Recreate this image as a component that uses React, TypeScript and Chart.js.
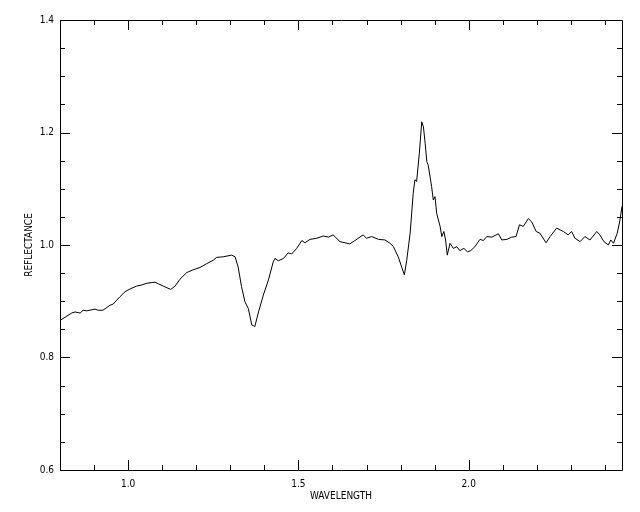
import React, { useEffect, useRef } from "react";
import { Chart, registerables } from "chart.js";

Chart.register(...registerables);

const WAVELENGTH = [
  0.803, 0.834, 0.844, 0.859, 0.868, 0.878, 0.903, 0.912, 0.926, 0.947,
  0.956, 0.976, 0.991, 1.006, 1.025, 1.040, 1.055, 1.079, 1.089, 1.103,
  1.125, 1.138, 1.152, 1.172, 1.191, 1.211, 1.231, 1.250, 1.260, 1.279,
  1.304, 1.314, 1.323, 1.333, 1.343, 1.353, 1.363, 1.372, 1.382, 1.397,
  1.412, 1.426, 1.431, 1.441, 1.456, 1.470, 1.480, 1.495, 1.510, 1.519,
  1.534, 1.554, 1.573, 1.588, 1.602, 1.622, 1.651, 1.666, 1.690, 1.700,
  1.715, 1.735, 1.754, 1.769, 1.779, 1.793, 1.803, 1.811, 1.818, 1.828,
  1.837, 1.842, 1.847, 1.855, 1.862, 1.867, 1.872, 1.877, 1.881, 1.891,
  1.896, 1.901, 1.906, 1.916, 1.921, 1.927, 1.932, 1.937, 1.945, 1.955,
  1.965, 1.974, 1.986, 1.996, 2.006, 2.018, 2.033, 2.043, 2.053, 2.068,
  2.087, 2.097, 2.112, 2.126, 2.139, 2.149, 2.160, 2.175, 2.185, 2.198,
  2.209, 2.227, 2.239, 2.258, 2.278, 2.292, 2.302, 2.312, 2.327, 2.341,
  2.356, 2.376, 2.385, 2.397, 2.410, 2.417, 2.425, 2.436, 2.444, 2.450,
];

const REFLECTANCE = [
  0.867, 0.879, 0.881, 0.879, 0.884, 0.883, 0.886, 0.884, 0.884, 0.893,
  0.895, 0.908, 0.917, 0.922, 0.927, 0.929, 0.932, 0.934, 0.931, 0.927,
  0.921, 0.927, 0.939, 0.951, 0.956, 0.960, 0.967, 0.973, 0.978, 0.979,
  0.982, 0.979, 0.961, 0.926, 0.899, 0.887, 0.858, 0.855, 0.879, 0.911,
  0.938, 0.970, 0.976, 0.972, 0.976, 0.986, 0.984, 0.994, 1.008, 1.004,
  1.010, 1.012, 1.016, 1.014, 1.018, 1.006, 1.002, 1.008, 1.018, 1.012,
  1.015, 1.010, 1.009, 1.003, 0.997, 0.979, 0.961, 0.947, 0.973, 1.021,
  1.092, 1.116, 1.113, 1.163, 1.219, 1.210, 1.181, 1.148, 1.142, 1.104,
  1.080, 1.086, 1.056, 1.033, 1.015, 1.024, 1.009, 0.982, 1.003, 0.994,
  0.997, 0.990, 0.994, 0.988, 0.990, 0.997, 1.010, 1.008, 1.015, 1.014,
  1.020, 1.009, 1.010, 1.014, 1.015, 1.036, 1.033, 1.047, 1.041, 1.024,
  1.021, 1.004, 1.015, 1.030, 1.024, 1.018, 1.024, 1.012, 1.006, 1.015,
  1.009, 1.024, 1.018, 1.006, 1.000, 1.009, 1.003, 1.021, 1.044, 1.069,
];

const X_MIN = 0.8;
const X_MAX = 2.45;
const Y_MIN = 0.6;
const Y_MAX = 1.4;

const X_MAJOR_TICKS = [1.0, 1.5, 2.0];
const X_MINOR_TICKS = [0.9, 1.1, 1.2, 1.3, 1.4, 1.6, 1.7, 1.8, 1.9, 2.1, 2.2, 2.3, 2.4];
const Y_MAJOR_TICKS = [0.6, 0.8, 1.0, 1.2, 1.4];
const Y_MINOR_TICKS = [0.65, 0.7, 0.75, 0.85, 0.9, 0.95, 1.05, 1.1, 1.15, 1.25, 1.3, 1.35];

const FONT_FAMILY = "'Liberation Sans Narrow', 'DejaVu Sans Condensed', 'Liberation Sans', Arial, sans-serif";

const frameTicksPlugin = {
  id: "frameTicks",
  afterDraw(chart: any) {
    const { ctx, chartArea } = chart;
    const { left, right, top, bottom } = chartArea;
    const xs = chart.scales.x;
    const ys = chart.scales.y;
    ctx.save();
    ctx.strokeStyle = "#000";
    ctx.lineWidth = 1;
    ctx.beginPath();
    ctx.rect(Math.round(left) + 0.5, Math.round(top) + 0.5, Math.round(right - left), Math.round(bottom - top));
    ctx.stroke();
    const drawX = (v: number, len: number) => {
      const p = Math.round(xs.getPixelForValue(v)) + 0.5;
      ctx.beginPath();
      ctx.moveTo(p, bottom);
      ctx.lineTo(p, bottom - len);
      ctx.moveTo(p, top);
      ctx.lineTo(p, top + len);
      ctx.stroke();
    };
    const drawY = (v: number, len: number) => {
      const p = Math.round(ys.getPixelForValue(v)) + 0.5;
      ctx.beginPath();
      ctx.moveTo(left, p);
      ctx.lineTo(left + len, p);
      ctx.moveTo(right, p);
      ctx.lineTo(right - len, p);
      ctx.stroke();
    };
    X_MAJOR_TICKS.forEach((v) => drawX(v, 10));
    X_MINOR_TICKS.forEach((v) => drawX(v, 5));
    Y_MAJOR_TICKS.forEach((v) => drawY(v, 10));
    Y_MINOR_TICKS.forEach((v) => drawY(v, 5));
    ctx.restore();
  },
};

export default function App() {
  const canvasRef = useRef<HTMLCanvasElement | null>(null);

  useEffect(() => {
    const canvas = canvasRef.current;
    if (!canvas) return;
    const points = WAVELENGTH.map((x, i) => ({ x, y: REFLECTANCE[i] }));
    const chart = new Chart(canvas, {
      type: "line",
      data: {
        datasets: [
          {
            data: points,
            borderColor: "#000",
            borderWidth: 1,
            pointRadius: 0,
            tension: 0,
            fill: false,
          },
        ],
      },
      options: {
        animation: false,
        responsive: false,
        devicePixelRatio: 1,
        layout: { padding: { left: 0, right: 18, top: 20, bottom: 0 } },
        plugins: {
          legend: { display: false },
          tooltip: { enabled: false },
        },
        scales: {
          x: {
            type: "linear",
            min: X_MIN,
            max: X_MAX,
            grid: { display: false, drawTicks: false },
            border: { display: false },
            afterFit: (s: any) => {
              s.height = 42;
            },
            afterBuildTicks: (s: any) => {
              s.ticks = X_MAJOR_TICKS.map((v) => ({ value: v }));
            },
            ticks: {
              color: "#000",
              padding: 8,
              maxRotation: 0,
              font: { family: FONT_FAMILY, size: 10 },
              callback: (v: any) => Number(v).toFixed(1),
            },
            title: {
              display: true,
              text: "WAVELENGTH",
              color: "#000",
              font: { family: FONT_FAMILY, size: 10 },
              padding: { top: 0, bottom: 10 },
            },
          },
          y: {
            type: "linear",
            min: Y_MIN,
            max: Y_MAX,
            grid: { display: false, drawTicks: false },
            border: { display: false },
            afterFit: (s: any) => {
              s.width = 60;
            },
            afterBuildTicks: (s: any) => {
              s.ticks = Y_MAJOR_TICKS.map((v) => ({ value: v }));
            },
            ticks: {
              color: "#000",
              padding: 6,
              font: { family: FONT_FAMILY, size: 10 },
              callback: (v: any) => Number(v).toFixed(1),
            },
            title: {
              display: true,
              text: "REFLECTANCE",
              color: "#000",
              font: { family: FONT_FAMILY, size: 10 },
              padding: { top: 23, bottom: 0 },
            },
          },
        },
      },
      plugins: [frameTicksPlugin],
    });
    return () => chart.destroy();
  }, []);

  return (
    <div style={{ position: "absolute", left: 0, top: 0, width: 640, height: 512, background: "#fff" }}>
      <canvas ref={canvasRef} width={640} height={512} style={{ display: "block", width: 640, height: 512 }} />
    </div>
  );
}
